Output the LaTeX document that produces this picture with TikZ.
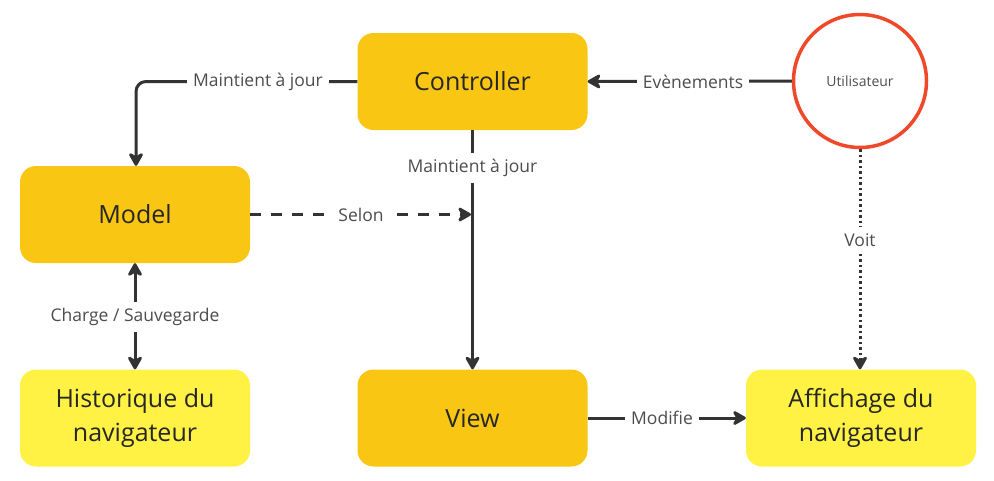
\documentclass[tikz,border=0pt]{standalone}
\usepackage{fontspec}
\setmainfont{Open Sans}
\usetikzlibrary{arrows.meta}
\definecolor{darkyel}{HTML}{F9C713}
\definecolor{lightyel}{HTML}{FFF245}
\definecolor{lineclr}{HTML}{333333}
\definecolor{lblclr}{HTML}{4D4D4D}
\definecolor{userred}{HTML}{F0482A}
\begin{document}
\begin{tikzpicture}[x=1pt,y=-1pt,
  boxbase/.style={rounded corners=16pt, minimum width=230pt, minimum height=97pt, align=center, font=\fontsize{25}{34}\selectfont, text=black!85},
  mainbox/.style={boxbase, fill=darkyel},
  extbox/.style={boxbase, fill=lightyel},
  conn/.style={draw=lineclr, line width=3pt, -{Stealth[length=16pt,width=18pt,inset=5pt,round]}},
  lbl/.style={fill=white, inner sep=6pt, text=lblclr, font=\fontsize{17.5}{21}\selectfont}
]
\useasboundingbox (0,0) rectangle (994,480);
\node[mainbox] (ctrl) at (472.5,81.5) {Controller};
\node[mainbox] (model) at (135,214.5) {Model};
\node[extbox] (hist) at (135,418) {Historique du\\navigateur};
\node[mainbox] (view) at (472.5,418) {View};
\node[extbox] (aff) at (861,418) {Affichage du\\navigateur};
\node[circle, draw=userred, line width=3.5pt, minimum size=133pt, inner sep=0pt, text=lblclr, font=\fontsize{14}{17}\selectfont] (user) at (860,81) {Utilisateur};
\coordinate (corner) at (136,81.5);
\coordinate (sel) at (471,214.5);

\draw[conn, rounded corners=10pt] (ctrl.west) -- (corner) -- (model.north -| corner);
\node[lbl] at (258,81.5) {Maintient à jour};

\draw[conn] (ctrl.south) -- (view.north);
\node[lbl] at (472.5,168) {Maintient à jour};

\draw[conn, dash pattern=on 11pt off 10pt] (model.east) -- (sel);
\node[lbl] at (361,214.5) {Selon};

\draw[conn, {Stealth[length=16pt,width=18pt,inset=5pt,round]}-{Stealth[length=16pt,width=18pt,inset=5pt,round]}] (model.south) -- (hist.north);
\node[lbl] at (135,317) {Charge / Sauvegarde};

\draw[conn] (user.west) -- (ctrl.east);
\node[lbl] at (693,81.5) {Evènements};

\draw[conn, dash pattern=on 2.5pt off 3pt] (user.south) -- (aff.north -| user.south);
\node[lbl] at (860,240) {Voit};

\draw[conn] (view.east) -- (aff.west);
\node[lbl] at (662,418) {Modifie};
\end{tikzpicture}
\end{document}
